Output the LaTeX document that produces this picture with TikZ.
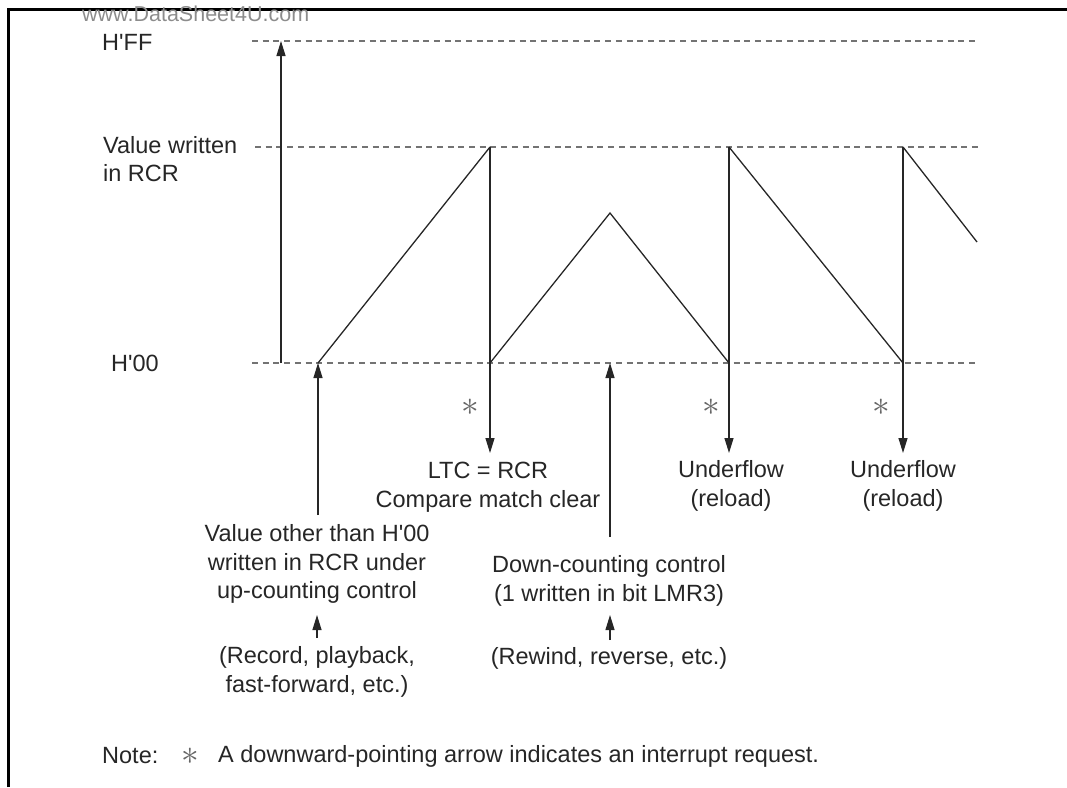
\documentclass[tikz,border=0pt]{standalone}
\usepackage{fontspec}
\usepackage{graphicx}
\setmainfont{Liberation Sans}
\usetikzlibrary{arrows.meta}
\newcommand{\hq}{\textquotesingle}
\newcommand{\irqmark}{\scalebox{1.7}{$\ast$}}

\begin{document}
\begin{tikzpicture}[x=1pt, y=-1pt,
  lvl/.style={draw=black!55, dash pattern=on 6pt off 4.7pt, line width=1.4pt},
  wave/.style={draw=black!85, line width=1.3pt},
  arr/.style={-{Triangle[length=15pt,width=9pt]}, line width=1.2pt, draw=black!85},
  txt/.style={font=\fontsize{23.5}{28.5}\selectfont, align=center, inner sep=0pt, text=black!85},
  lbl/.style={font=\fontsize{23.5}{28.5}\selectfont, align=left, inner sep=0pt, anchor=west, text=black!85},
  star/.style={inner sep=0pt, text=black!60, font=\fontsize{20}{20}\selectfont},
  frame/.style={draw=black, line width=3pt},
]
\useasboundingbox (0,0) rectangle (1067,787);

% Frame and watermark
\draw[frame] (8,787) -- (8,9) -- (1067,9);
\node[inner sep=0pt, anchor=west, text=black!45, font=\fontsize{21.5}{21.5}\selectfont] (wm) at (82,14) {www.DataSheet4U.com};

% Levels
\node[lbl] (hff) at (102,42) {H\hq FF};
\node[lbl] (hval) at (103,159) {Value written\\in RCR};
\node[lbl] (h00) at (111,363) {H\hq 00};

\coordinate (ffL) at (252,41);  \coordinate (ffR) at (975,41);
\coordinate (vaL) at (255,147); \coordinate (vaR) at (978,147);
\coordinate (zeL) at (252,363); \coordinate (zeR) at (978,363);
\draw[lvl] (ffL) -- (ffR);
\draw[lvl] (vaL) -- (vaR);
\draw[lvl] (zeL) -- (zeR);

% Range arrow
\coordinate (rngB) at (281,363);
\coordinate (rngT) at (281,41);
\draw[arr] (rngB) -- (rngT);

% Counter waveform
\coordinate (w0) at (318,363);
\coordinate (w1) at (490,147);
\coordinate (w2) at (490,363);
\coordinate (w3) at (610,213);
\coordinate (w4) at (729,363);
\coordinate (w5) at (729,147);
\coordinate (w6) at (903,363);
\coordinate (w7) at (903,147);
\coordinate (w8) at (977,242);
\draw[wave] (w0) -- (w1);
\draw[wave] (w2) -- (w3) -- (w4);
\draw[wave] (w5) -- (w6);
\draw[wave] (w7) -- (w8);

% Interrupt requests
\coordinate (d1) at (490,453);
\coordinate (d2) at (729,453);
\coordinate (d3) at (903,453);
\draw[arr] (w1) -- (d1);
\draw[arr] (w5) -- (d2);
\draw[arr] (w7) -- (d3);
\node[star] (s1) at (470,407) {\irqmark};
\node[star] (s2) at (711,407) {\irqmark};
\node[star] (s3) at (881,407) {\irqmark};

\node[txt] (ltc) at (488,487) {LTC = RCR\\Compare match clear};
\node[txt] (uf1) at (731,486) {Underflow\\(reload)};
\node[txt] (uf2) at (903,486) {Underflow\\(reload)};

% Up-counting start
\coordinate (u1) at (318,515);
\draw[arr] (u1) -- (w0);
\node[txt] (upctl) at (317,564) {Value other than H\hq 00\\written in RCR under\\up-counting control};
\coordinate (r1b) at (317,638);
\coordinate (r1t) at (317,615);
\draw[arr] (r1b) -- (r1t);
\node[txt] (rec) at (317,672) {(Record, playback,\\fast-forward, etc.)};

% Down-counting start
\coordinate (u2b) at (610,537);
\coordinate (u2t) at (610,363);
\draw[arr] (u2b) -- (u2t);
\node[txt] (dnctl) at (609,581) {Down-counting control\\(1 written in bit LMR3)};
\coordinate (r2b) at (610,640);
\coordinate (r2t) at (610,615);
\draw[arr] (r2b) -- (r2t);
\node[txt] (rew) at (609,658) {(Rewind, reverse, etc.)};

% Note
\node[lbl] (note) at (102,756) {Note:};
\node[star] (s4) at (190,756) {\irqmark};
\node[lbl] (notetxt) at (218,756) {A downward-pointing arrow indicates an interrupt request.};

\end{tikzpicture}
\end{document}
